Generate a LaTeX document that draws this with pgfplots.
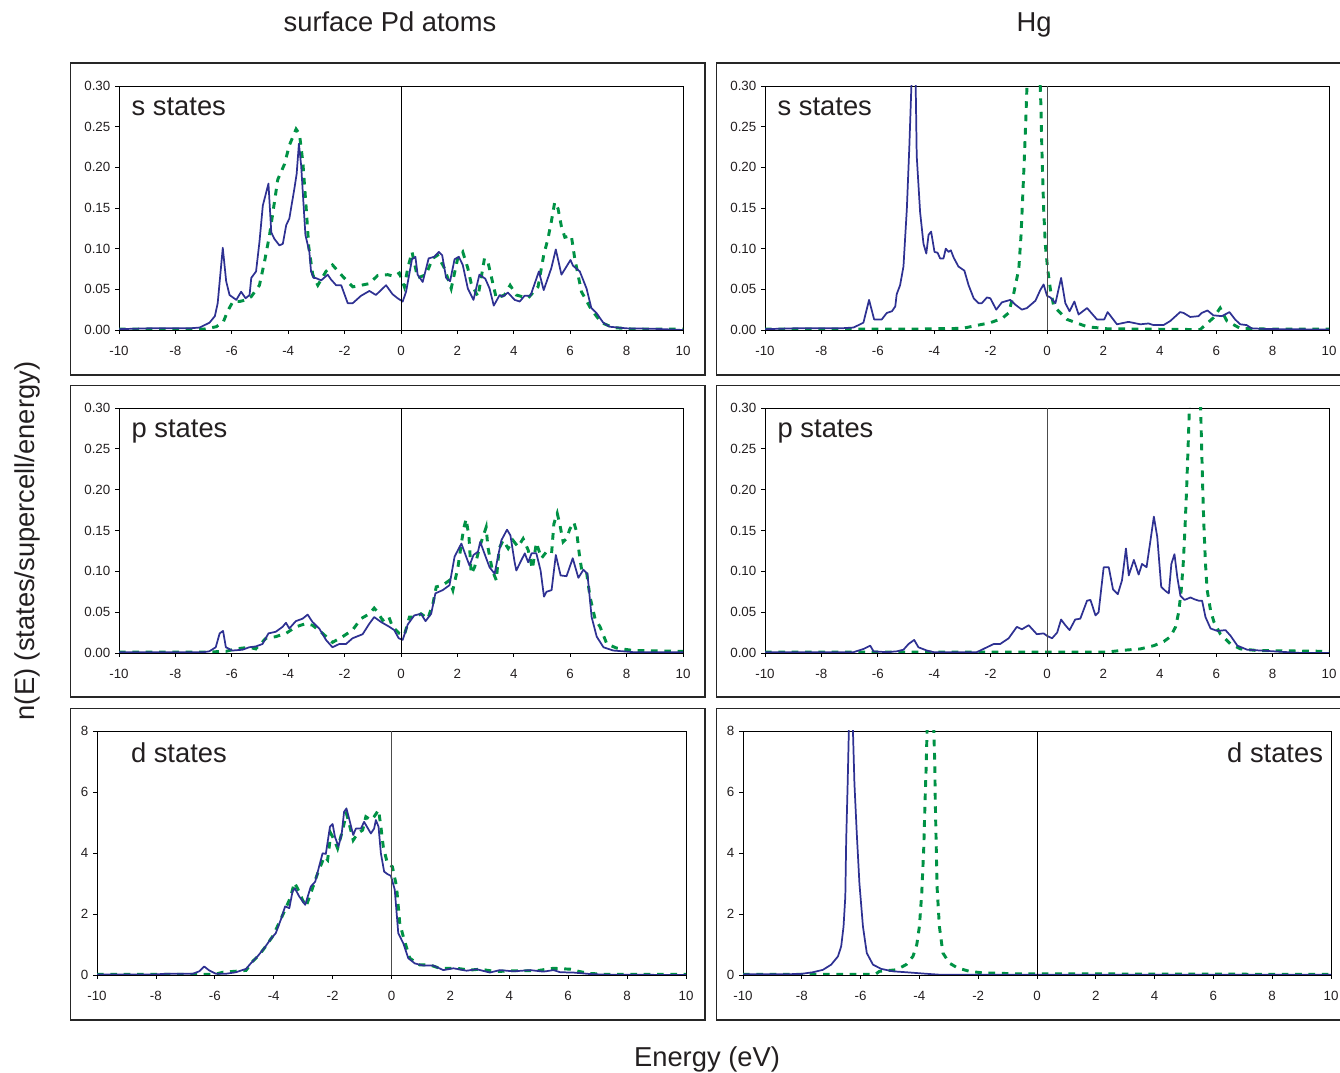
\documentclass[border=0pt]{standalone}
\usepackage{pgfplots}
\pgfplotsset{compat=1.18}
\usepackage{fontspec}
\setmainfont{Liberation Sans}
\definecolor{dblue}{RGB}{46,49,146}
\definecolor{dgreen}{RGB}{0,146,69}
\definecolor{txt}{RGB}{35,31,32}
\tikzset{lab/.style={font=\fontsize{20.5}{24}\selectfont, text=txt}}
\pgfplotsset{
 dos/.style={
   scale only axis, anchor=south west,
   xmin=-10,xmax=10, xtick={-10,-8,-6,-4,-2,0,2,4,6,8,10},
   tick pos=left, tick align=outside, major tick length=3pt,
   axis line style={line width=0.6pt, black},
   tick style={black, line width=0.6pt},
   ticklabel style={font=\fontsize{10}{12}\selectfont, text=txt},
   xticklabel style={yshift=-5.5pt},
   /pgf/number format/assume math mode=true,
   scaled y ticks=false,
   clip=true,
 },
 sp/.style={ymin=0,ymax=0.3, ytick={0,0.05,0.1,0.15,0.2,0.25,0.3},
   yticklabel style={/pgf/number format/fixed,/pgf/number format/fixed zerofill,/pgf/number format/precision=2}},
 dd/.style={ymin=0,ymax=8,ytick={0,2,4,6,8}},
 bl/.style={color=dblue, line width=1.3pt, line join=round, no marks},
 gr/.style={color=dgreen, line width=2.2pt, dash pattern=on 5pt off 5pt, no marks},
}
\begin{document}
\begin{tikzpicture}
\useasboundingbox (0,0) rectangle (1005pt,804.75pt);
\begin{scope}[x=0.75pt,y=-0.75pt,shift={(0pt,804.75pt)}]
 \draw[line width=1pt, black!85] (70.5,63) rectangle (705,375);
 \draw[line width=1pt, black!85] (1345,63) -- (716.5,63) -- (716.5,375) -- (1345,375);
 \draw[line width=1pt, black!85] (70.5,385.5) rectangle (705,697);
 \draw[line width=1pt, black!85] (1345,385.5) -- (716.5,385.5) -- (716.5,697) -- (1345,697);
 \draw[line width=1pt, black!85] (70.5,708.5) rectangle (705,1020);
 \draw[line width=1pt, black!85] (1345,708.5) -- (716.5,708.5) -- (716.5,1020) -- (1345,1020);
 \node[lab, anchor=base] at (390,31.5) {surface Pd atoms};
 \node[lab, anchor=base] at (1034,31.5) {Hg};
 \node[lab] at (707,1059) {Energy (eV)};
 \node[lab, rotate=90] at (27,541) {n(E) (states/supercell/energy)};
\end{scope}

% ---------- TL: Pd s
\begin{axis}[dos, sp, at={(89.25pt,557.25pt)}, width=423pt, height=183pt]
\addplot[gr] coordinates {(-10,0.001)(-9,0.001)(-8,0.001)(-7,0.001)(-6.55,0.004)(-6.3,0.01)(-6.15,0.023)(-5.96,0.035)(-5.73,0.035)(-5.49,0.037)(-5.31,0.041)(-5.02,0.055)(-4.84,0.084)(-4.66,0.117)(-4.54,0.145)(-4.37,0.185)(-4.13,0.204)(-3.96,0.227)(-3.72,0.247)(-3.6,0.241)(-3.48,0.206)(-3.36,0.149)(-3.27,0.102)(-3.13,0.068)(-2.95,0.055)(-2.66,0.072)(-2.43,0.08)(-2.07,0.066)(-1.71,0.053)(-1.42,0.055)(-1.12,0.057)(-0.83,0.067)(-0.47,0.068)(-0.24,0.066)(-0.06,0.07)(0.12,0.053)(0.24,0.076)(0.39,0.096)(0.59,0.064)(0.89,0.068)(1.12,0.088)(1.3,0.092)(1.54,0.076)(1.78,0.051)(2.01,0.088)(2.19,0.096)(2.37,0.076)(2.49,0.057)(2.73,0.041)(2.96,0.088)(3.08,0.084)(3.2,0.066)(3.38,0.039)(3.67,0.043)(3.87,0.055)(4.09,0.043)(4.5,0.039)(4.86,0.053)(5.06,0.092)(5.21,0.112)(5.33,0.133)(5.45,0.157)(5.57,0.149)(5.69,0.127)(5.81,0.114)(6.04,0.116)(6.16,0.088)(6.4,0.047)(6.75,0.025)(7.11,0.009)(7.52,0.003)(8.23,0.001)(10,0.001)};
\addplot[bl] coordinates {(-10,0.001)(-9,0.002)(-8,0.002)(-7.5,0.002)(-7.14,0.003)(-6.79,0.009)(-6.6,0.017)(-6.5,0.033)(-6.32,0.101)(-6.2,0.06)(-6.08,0.043)(-5.84,0.037)(-5.67,0.047)(-5.51,0.039)(-5.37,0.043)(-5.31,0.064)(-5.14,0.072)(-5.02,0.108)(-4.9,0.153)(-4.7,0.18)(-4.6,0.12)(-4.49,0.112)(-4.31,0.104)(-4.19,0.106)(-4.07,0.129)(-3.96,0.137)(-3.78,0.174)(-3.7,0.192)(-3.62,0.229)(-3.54,0.202)(-3.39,0.117)(-3.25,0.096)(-3.19,0.072)(-3.1,0.064)(-3.03,0.064)(-2.83,0.061)(-2.6,0.068)(-2.48,0.062)(-2.3,0.055)(-2.12,0.055)(-1.89,0.033)(-1.71,0.033)(-1.42,0.042)(-1.12,0.048)(-0.89,0.043)(-0.77,0.047)(-0.53,0.055)(-0.3,0.044)(-0.12,0.039)(0.06,0.035)(0.18,0.047)(0.39,0.087)(0.51,0.09)(0.59,0.068)(0.77,0.059)(0.98,0.088)(1.18,0.09)(1.34,0.096)(1.46,0.092)(1.6,0.064)(1.74,0.06)(1.9,0.087)(2.05,0.09)(2.19,0.08)(2.37,0.051)(2.57,0.037)(2.78,0.068)(2.99,0.063)(3.14,0.051)(3.29,0.03)(3.5,0.043)(3.61,0.041)(3.79,0.046)(4.03,0.037)(4.21,0.035)(4.38,0.042)(4.59,0.042)(4.89,0.072)(5.06,0.049)(5.33,0.076)(5.49,0.099)(5.69,0.068)(6.01,0.086)(6.1,0.079)(6.34,0.072)(6.58,0.051)(6.75,0.027)(6.93,0.021)(7.17,0.009)(7.4,0.004)(8,0.002)(8.94,0.0015)(10,0)};
\draw[black, line width=0.6pt] (axis cs:0,0) -- (axis cs:0,0.3);
\node[lab, anchor=base west] at ([xshift=6pt,yshift=-22.5pt]rel axis cs:0,1) {s states};
\end{axis}

% ---------- TR: Hg s
\begin{axis}[dos, sp, at={(573.75pt,557.25pt)}, width=423pt, height=183pt]
\addplot[gr] coordinates {(-10,0.001)(-7,0.001)(-5,0.001)(-3,0.002)(-2.01,0.009)(-1.6,0.014)(-1.36,0.021)(-1.18,0.045)(-1.0,0.075)(-0.92,0.117)(-0.86,0.165)(-0.8,0.214)(-0.75,0.26)(-0.7,0.31)(-0.5,0.5)(-0.3,0.36)(-0.22,0.28)(-0.18,0.22)(-0.12,0.15)(-0.06,0.105)(0.02,0.076)(0.12,0.05)(0.24,0.029)(0.71,0.013)(1.42,0.004)(2.13,0.0015)(5.43,0.0005)(5.9,0.015)(6.14,0.027)(6.38,0.011)(6.85,0.002)(8,0.001)(10,0.001)};
\addplot[bl] coordinates {(-10,0.001)(-9,0.002)(-8,0.002)(-7.34,0.002)(-6.86,0.003)(-6.51,0.009)(-6.31,0.037)(-6.13,0.013)(-5.86,0.013)(-5.68,0.021)(-5.5,0.023)(-5.38,0.029)(-5.33,0.044)(-5.21,0.055)(-5.09,0.078)(-4.97,0.149)(-4.88,0.227)(-4.79,0.32)(-4.72,0.36)(-4.66,0.31)(-4.62,0.214)(-4.5,0.145)(-4.38,0.106)(-4.28,0.094)(-4.2,0.117)(-4.11,0.121)(-3.99,0.096)(-3.88,0.095)(-3.79,0.088)(-3.67,0.088)(-3.59,0.1)(-3.49,0.096)(-3.41,0.098)(-3.31,0.089)(-3.14,0.078)(-2.93,0.073)(-2.78,0.055)(-2.6,0.039)(-2.43,0.033)(-2.31,0.033)(-2.13,0.04)(-2.01,0.039)(-1.8,0.025)(-1.6,0.034)(-1.3,0.037)(-1.12,0.031)(-0.89,0.025)(-0.71,0.027)(-0.41,0.036)(-0.24,0.049)(-0.12,0.056)(0.0,0.042)(0.12,0.04)(0.3,0.033)(0.5,0.064)(0.65,0.033)(0.8,0.023)(0.97,0.035)(1.12,0.019)(1.42,0.027)(1.77,0.013)(2.03,0.013)(2.15,0.022)(2.48,0.007)(2.89,0.01)(3.31,0.007)(3.6,0.008)(3.78,0.006)(4.13,0.006)(4.37,0.011)(4.72,0.022)(4.84,0.021)(5.08,0.016)(5.37,0.017)(5.49,0.021)(5.69,0.024)(5.9,0.018)(6.2,0.017)(6.47,0.022)(6.67,0.013)(6.85,0.007)(7.08,0.006)(7.26,0.002)(7.79,0.0012)(10,0.0005)};
\draw[black!70, line width=0.6pt] (axis cs:0,0) -- (axis cs:0,0.3);
\node[lab, anchor=base west] at ([xshift=6pt,yshift=-22.5pt]rel axis cs:0,1) {s states};
\end{axis}

% ---------- ML: Pd p
\begin{axis}[dos, sp, at={(89.25pt,315pt)}, width=423pt, height=183.75pt]
\addplot[gr] coordinates {(-10,0.001)(-7,0.001)(-6.21,0.002)(-5.86,0.005)(-5.38,0.007)(-5.15,0.005)(-4.79,0.018)(-4.44,0.02)(-4.08,0.024)(-3.73,0.032)(-3.37,0.036)(-3.14,0.034)(-2.78,0.024)(-2.43,0.013)(-2.07,0.02)(-1.72,0.028)(-1.42,0.042)(-1.12,0.048)(-0.95,0.055)(-0.83,0.05)(-0.65,0.04)(-0.44,0.045)(-0.3,0.032)(-0.06,0.024)(0.12,0.022)(0.3,0.044)(0.53,0.044)(0.71,0.048)(0.95,0.042)(1.13,0.06)(1.25,0.081)(1.48,0.083)(1.72,0.089)(1.84,0.077)(2.02,0.105)(2.14,0.134)(2.22,0.152)(2.31,0.164)(2.41,0.142)(2.49,0.097)(2.61,0.105)(2.79,0.13)(3.02,0.154)(3.08,0.13)(3.24,0.101)(3.38,0.089)(3.48,0.128)(3.62,0.138)(3.8,0.128)(3.97,0.138)(4.15,0.13)(4.33,0.14)(4.51,0.126)(4.66,0.103)(4.8,0.135)(4.98,0.116)(5.16,0.124)(5.34,0.122)(5.42,0.158)(5.54,0.171)(5.63,0.158)(5.75,0.136)(5.87,0.14)(5.99,0.152)(6.13,0.16)(6.23,0.148)(6.32,0.122)(6.41,0.101)(6.58,0.099)(6.7,0.069)(6.88,0.042)(7.06,0.032)(7.3,0.011)(7.65,0.006)(8.24,0.003)(10,0.002)};
\addplot[bl] coordinates {(-10,0.001)(-7,0.001)(-6.8,0.002)(-6.57,0.007)(-6.43,0.024)(-6.31,0.027)(-6.21,0.007)(-5.98,0.003)(-5.62,0.004)(-5.38,0.007)(-5.15,0.008)(-4.91,0.011)(-4.7,0.024)(-4.44,0.026)(-4.2,0.032)(-4.08,0.037)(-3.96,0.03)(-3.73,0.039)(-3.49,0.042)(-3.31,0.047)(-3.14,0.038)(-2.9,0.03)(-2.66,0.016)(-2.43,0.007)(-2.19,0.011)(-1.95,0.011)(-1.72,0.018)(-1.36,0.023)(-1.12,0.036)(-0.95,0.044)(-0.71,0.038)(-0.41,0.032)(-0.24,0.028)(-0.08,0.018)(0.06,0.016)(0.24,0.035)(0.47,0.046)(0.71,0.048)(0.87,0.039)(1.07,0.048)(1.22,0.073)(1.48,0.077)(1.72,0.083)(1.9,0.118)(2.14,0.134)(2.31,0.118)(2.43,0.107)(2.57,0.12)(2.73,0.124)(2.81,0.136)(3.0,0.118)(3.14,0.105)(3.32,0.097)(3.44,0.118)(3.56,0.138)(3.76,0.151)(3.88,0.144)(4.03,0.111)(4.09,0.101)(4.23,0.111)(4.39,0.122)(4.51,0.111)(4.63,0.122)(4.8,0.122)(4.95,0.101)(5.07,0.069)(5.16,0.075)(5.34,0.077)(5.49,0.12)(5.66,0.095)(5.87,0.094)(6.09,0.116)(6.29,0.092)(6.47,0.102)(6.61,0.097)(6.76,0.044)(6.94,0.02)(7.18,0.007)(7.53,0.003)(8.24,0.001)(10,0.001)};
\draw[black, line width=0.6pt] (axis cs:0,0) -- (axis cs:0,0.3);
\node[lab, anchor=base west] at ([xshift=6pt,yshift=-22pt]rel axis cs:0,1) {p states};
\end{axis}

% ---------- MR: Hg p
\begin{axis}[dos, sp, at={(573.75pt,315pt)}, width=423pt, height=183.75pt]
\addplot[gr] coordinates {(-10,0.001)(-5,0.001)(0,0.001)(2.1,0.001)(2.6,0.003)(3.31,0.005)(3.79,0.009)(4.14,0.014)(4.38,0.02)(4.56,0.032)(4.67,0.05)(4.76,0.077)(4.83,0.109)(4.89,0.15)(4.95,0.2)(5.0,0.249)(5.05,0.3)(5.25,0.45)(5.44,0.31)(5.48,0.257)(5.52,0.204)(5.56,0.159)(5.62,0.109)(5.68,0.077)(5.8,0.052)(5.92,0.038)(6.15,0.023)(6.51,0.011)(6.86,0.005)(7.46,0.003)(10,0.002)};
\addplot[bl] coordinates {(-10,0.001)(-7,0.001)(-6.86,0.001)(-6.5,0.005)(-6.27,0.009)(-6.15,0.002)(-5.68,0.001)(-5.33,0.002)(-5.09,0.004)(-4.91,0.011)(-4.71,0.016)(-4.56,0.007)(-4.26,0.003)(-4.02,0.001)(-2.49,0.001)(-2.13,0.007)(-1.89,0.011)(-1.66,0.011)(-1.36,0.018)(-1.07,0.032)(-0.89,0.029)(-0.65,0.034)(-0.36,0.023)(-0.12,0.024)(0.0,0.021)(0.18,0.018)(0.36,0.025)(0.5,0.041)(0.65,0.034)(0.8,0.028)(1.0,0.041)(1.18,0.042)(1.42,0.064)(1.54,0.065)(1.72,0.046)(1.83,0.05)(2.01,0.105)(2.19,0.105)(2.34,0.078)(2.51,0.072)(2.66,0.089)(2.8,0.128)(2.9,0.095)(3.08,0.114)(3.25,0.096)(3.37,0.109)(3.53,0.105)(3.67,0.138)(3.79,0.167)(3.91,0.142)(4.05,0.081)(4.2,0.076)(4.32,0.073)(4.41,0.109)(4.52,0.121)(4.62,0.093)(4.73,0.07)(4.88,0.065)(5.09,0.068)(5.21,0.066)(5.38,0.064)(5.5,0.064)(5.62,0.044)(5.8,0.03)(6.04,0.027)(6.33,0.028)(6.51,0.021)(6.75,0.009)(7.1,0.004)(8.05,0.002)(9,0)(10,0)};
\draw[black!70, line width=0.6pt] (axis cs:0,0) -- (axis cs:0,0.3);
\node[lab, anchor=base west] at ([xshift=6pt,yshift=-22pt]rel axis cs:0,1) {p states};
\end{axis}

% ---------- BL: Pd d
\begin{axis}[dos, dd, at={(72.75pt,73.5pt)}, width=441.75pt, height=183pt]
\addplot[gr] coordinates {(-10,0.02)(-6,0.02)(-5.73,0.09)(-4.94,0.15)(-4.71,0.45)(-4.49,0.66)(-4.27,0.94)(-4.04,1.26)(-3.82,1.7)(-3.59,2.19)(-3.42,2.57)(-3.3,3.03)(-3.19,2.84)(-3.02,2.46)(-2.9,2.25)(-2.74,2.68)(-2.51,3.33)(-2.28,3.88)(-2.17,3.77)(-2.06,4.64)(-1.94,4.42)(-1.83,4.15)(-1.66,4.75)(-1.53,5.3)(-1.44,4.97)(-1.3,4.42)(-1.15,4.64)(-0.98,4.75)(-0.87,5.19)(-0.7,5.08)(-0.59,5.19)(-0.44,5.41)(-0.36,4.86)(-0.28,4.21)(-0.14,3.66)(0.03,3.55)(0.17,2.91)(0.28,1.7)(0.4,1.26)(0.62,0.55)(0.96,0.33)(1.3,0.33)(1.64,0.22)(2.21,0.22)(2.66,0.16)(3.0,0.19)(3.57,0.11)(4.03,0.14)(4.59,0.14)(4.93,0.14)(5.5,0.22)(6.07,0.19)(6.4,0.11)(6.75,0.05)(7.31,0.02)(10,0.02)};
\addplot[bl] coordinates {(-10,0.02)(-8,0.02)(-7.66,0.04)(-6.75,0.04)(-6.53,0.12)(-6.36,0.28)(-6.19,0.15)(-5.96,0.04)(-5.62,0.04)(-5.28,0.09)(-4.94,0.2)(-4.77,0.39)(-4.55,0.61)(-4.32,0.88)(-4.1,1.18)(-3.93,1.37)(-3.76,1.81)(-3.61,2.25)(-3.47,2.19)(-3.36,2.74)(-3.28,2.84)(-3.13,2.57)(-2.93,2.3)(-2.74,2.9)(-2.59,3.06)(-2.46,3.55)(-2.34,3.99)(-2.23,3.97)(-2.09,4.86)(-2.0,4.95)(-1.92,4.53)(-1.8,4.21)(-1.69,4.64)(-1.61,5.35)(-1.53,5.46)(-1.44,5.13)(-1.3,4.59)(-1.21,4.8)(-1.04,4.8)(-0.93,5.02)(-0.7,4.64)(-0.59,4.8)(-0.53,5.08)(-0.44,4.86)(-0.36,3.99)(-0.25,3.39)(-0.14,3.31)(-0.02,3.25)(0.11,2.8)(0.23,1.37)(0.4,1.04)(0.57,0.55)(0.79,0.38)(1.08,0.31)(1.42,0.31)(1.76,0.16)(2.1,0.22)(2.55,0.14)(2.89,0.19)(3.34,0.08)(3.68,0.16)(4.14,0.12)(4.71,0.16)(5.16,0.11)(5.5,0.16)(5.73,0.09)(6.18,0.08)(6.75,0.03)(7.31,0.01)(10,0)};
\draw[black!70, line width=0.6pt] (axis cs:0,0) -- (axis cs:0,8);
\node[lab, anchor=base west] at ([xshift=22pt,yshift=-24pt]rel axis cs:0,1) {d states};
\end{axis}

% ---------- BR: Hg d
\begin{axis}[dos, dd, at={(557.25pt,73.5pt)}, width=441pt, height=183pt]
\addplot[gr] coordinates {(-10,0.02)(-5.5,0.02)(-5.36,0.12)(-4.79,0.17)(-4.45,0.34)(-4.22,0.61)(-4.09,0.99)(-4.0,1.59)(-3.92,2.68)(-3.85,4.21)(-3.81,5.63)(-3.77,6.83)(-3.74,8.0)(-3.63,10)(-3.51,8.0)(-3.48,7.04)(-3.46,5.73)(-3.43,4.32)(-3.4,2.9)(-3.32,1.59)(-3.2,0.72)(-2.98,0.39)(-2.7,0.23)(-2.3,0.12)(-1.85,0.07)(-0.71,0.04)(10,0.02)};
\addplot[bl] coordinates {(-10,0.02)(-8.07,0.03)(-7.62,0.09)(-7.28,0.17)(-7.0,0.34)(-6.77,0.61)(-6.66,0.94)(-6.58,1.59)(-6.52,2.57)(-6.49,4.42)(-6.44,6.28)(-6.4,8.0)(-6.33,10)(-6.26,8.0)(-6.21,6.28)(-6.13,4.64)(-6.04,3.0)(-5.92,1.59)(-5.79,0.72)(-5.58,0.34)(-5.3,0.2)(-4.9,0.12)(-4.45,0.09)(-3.77,0.04)(-3.32,0.01)(10,0.01)};
\draw[black, line width=0.6pt] (axis cs:0,0) -- (axis cs:0,8);
\node[lab, anchor=base east] at ([xshift=-2.5pt,yshift=-24pt]rel axis cs:1,1) {d states};
\end{axis}
\end{tikzpicture}
\end{document}
